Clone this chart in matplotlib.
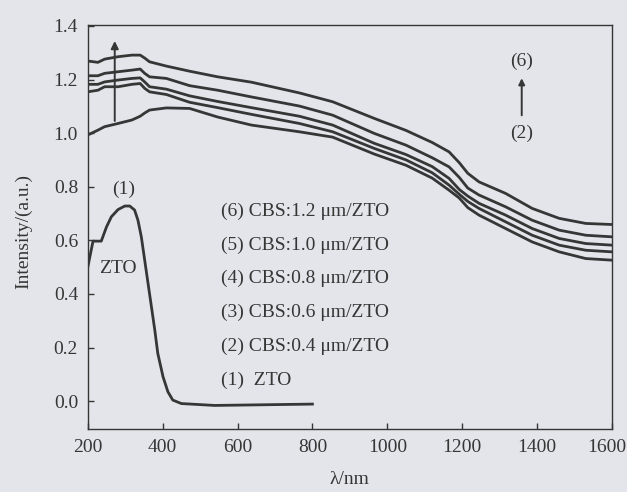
import matplotlib.pyplot as plt
from matplotlib.transforms import ScaledTranslation

# --- data ---
wl_cbs = [200, 227, 245, 281, 318, 340, 352, 365, 410, 472, 547, 637, 765, 854,
          965, 1050, 1120, 1165, 1192, 1215, 1245, 1316, 1387, 1459, 1530, 1600]

cbs_12 = [1.269, 1.264, 1.276, 1.285, 1.291, 1.291, 1.280, 1.266, 1.250, 1.231,
          1.210, 1.190, 1.150, 1.117, 1.055, 1.010, 0.965, 0.930, 0.890, 0.850,
          0.818, 0.775, 0.719, 0.682, 0.663, 0.659]
cbs_10 = [1.214, 1.214, 1.223, 1.229, 1.235, 1.239, 1.223, 1.210, 1.204, 1.177,
          1.160, 1.135, 1.101, 1.067, 0.999, 0.955, 0.908, 0.874, 0.835, 0.795,
          0.769, 0.725, 0.675, 0.638, 0.619, 0.613]
cbs_08 = [1.182, 1.182, 1.191, 1.198, 1.204, 1.206, 1.191, 1.173, 1.164, 1.139,
          1.118, 1.095, 1.063, 1.030, 0.962, 0.920, 0.875, 0.831, 0.790, 0.765,
          0.738, 0.694, 0.644, 0.607, 0.588, 0.582]
cbs_06 = [1.154, 1.160, 1.173, 1.173, 1.182, 1.185, 1.167, 1.154, 1.144, 1.115,
          1.095, 1.070, 1.036, 1.005, 0.943, 0.900, 0.852, 0.806, 0.772, 0.745,
          0.719, 0.669, 0.619, 0.582, 0.563, 0.557]
cbs_04 = [0.993, 1.011, 1.024, 1.036, 1.049, 1.063, 1.075, 1.086, 1.094, 1.092,
          1.060, 1.030, 1.005, 0.985, 0.922, 0.880, 0.832, 0.787, 0.758, 0.722,
          0.694, 0.644, 0.594, 0.557, 0.532, 0.526]

wl_zto = [200, 214, 236, 250, 263, 281, 299, 312, 325, 334, 343, 352, 361, 370,
          379, 387, 401, 414, 427, 450, 539, 800]
zto = [0.500, 0.597, 0.597, 0.650, 0.688, 0.715, 0.728, 0.728, 0.713, 0.675,
       0.613, 0.526, 0.439, 0.352, 0.265, 0.178, 0.091, 0.035, 0.004, -0.009,
       -0.016, -0.011]

legend_lines = ['(6) CBS:1.2 μm/ZTO', '(5) CBS:1.0 μm/ZTO', '(4) CBS:0.8 μm/ZTO',
                '(3) CBS:0.6 μm/ZTO', '(2) CBS:0.4 μm/ZTO', '(1)  ZTO']

bg = '#e3e5ea'
ink = '#363636'
plt.rcParams['font.family'] = ['Liberation Serif', 'DejaVu Serif']
plt.rcParams['font.size'] = 14

fig = plt.figure(figsize=(6.27, 4.92), dpi=100, facecolor=bg)
ax = fig.add_axes([0.140, 0.128, 0.836, 0.821], facecolor=bg)

for ys in (cbs_12, cbs_10, cbs_08, cbs_06, cbs_04):
    ax.plot(wl_cbs, ys, color=ink, lw=2.0)
ax.plot(wl_zto, zto, color=ink, lw=2.0)

# annotations
ax.annotate('', xy=(272, 1.354), xytext=(272, 1.035),
            arrowprops=dict(arrowstyle='-|>', color=ink, lw=1.4, mutation_scale=11))
ax.annotate('', xy=(1359, 1.215), xytext=(1359, 1.056),
            arrowprops=dict(arrowstyle='-|>', color=ink, lw=1.4, mutation_scale=9))
ax.text(1359, 1.266, '(6)', ha='center', va='center', color=ink)
ax.text(1359, 0.999, '(2)', ha='center', va='center', color=ink)
ax.text(296, 0.79, '(1)', ha='center', va='center', color=ink)
ax.text(281, 0.495, 'ZTO', ha='center', va='center', color=ink)

for i, s in enumerate(legend_lines):
    ax.text(557, 0.709 - i * 0.126, s, ha='left', va='center', color=ink)

ax.set_xlim(200, 1600)
ax.set_ylim(-0.104, 1.403)
ax.set_xticks([200, 400, 600, 800, 1000, 1200, 1400, 1600])
ax.set_yticks([0.0, 0.2, 0.4, 0.6, 0.8, 1.0, 1.2, 1.4])
ax.set_yticklabels(['0.0', '0.2', '0.4', '0.6', '0.8', '1.0', '1.2', '1.4'])
ax.tick_params(direction='in', length=4.5, width=1, color=ink, labelcolor=ink)
ax.tick_params(axis='y', pad=7)
ax.tick_params(axis='x', pad=7)
for sp in ax.spines.values():
    sp.set_color(ink)
    sp.set_linewidth(1.0)

# keep the last x label inside the canvas, as in the scan
last = ax.get_xticklabels()[-1]
last.set_transform(last.get_transform() + ScaledTranslation(-5 / 100, 0, fig.dpi_scale_trans))

ax.set_xlabel('λ/nm', color=ink, labelpad=11)
ax.set_ylabel('Intensity/(a.u.)', color=ink)
ax.yaxis.set_label_coords(-0.105, 0.49)

fig.savefig('out.png', dpi=100, facecolor=bg)
